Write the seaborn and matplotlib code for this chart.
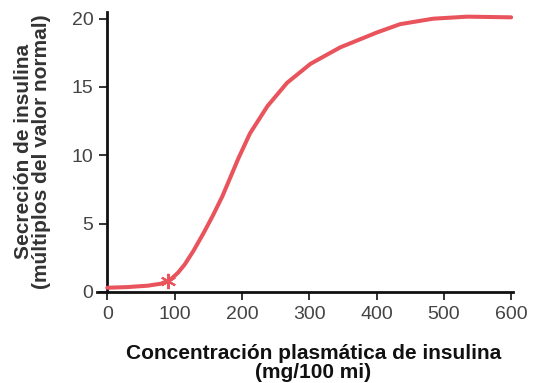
import matplotlib
matplotlib.use("Agg")
import matplotlib.pyplot as plt
import seaborn as sns
import pandas as pd

# Values
concentracion = [0, 30, 60, 80, 94, 105, 115, 128, 143, 157, 171, 183, 195, 212, 238,
                 267, 302, 346, 401, 435, 484, 535, 600]
secrecion = [0.3, 0.35, 0.45, 0.6, 0.9, 1.4, 2.0, 3.0, 4.3, 5.6, 7.0, 8.4, 9.8, 11.6, 13.6,
             15.3, 16.7, 17.9, 19.0, 19.6, 20.0, 20.15, 20.1]
punto_x = [90]
punto_y = [0.8]
x_ticks = [0, 100, 200, 300, 400, 500, 600]
y_ticks = [0, 5, 10, 15, 20]

sns.set_style("white")
plt.rcParams['font.family'] = ['Liberation Sans', 'DejaVu Sans']

df = pd.DataFrame({"x": concentracion, "y": secrecion})

fig = plt.figure(figsize=(5.34, 3.83), dpi=100)
ax = fig.add_axes([0.182, 0.238, 0.779, 0.731])

line_color = "#e9535c"
sns.lineplot(data=df, x="x", y="y", ax=ax, color=line_color, linewidth=2.9,
             solid_capstyle="round", solid_joinstyle="round", zorder=3)
ax.plot(punto_x, punto_y, linestyle="none", marker=(6, 2, 0), markersize=11,
        markeredgewidth=1.5, color=line_color, zorder=4)

ax.set_xlim(-15, 603)
ax.set_ylim(0, 20.5)
ax.spines["left"].set_position(("data", 0))
ax.spines["top"].set_visible(False)
ax.spines["right"].set_visible(False)
for s in ["left", "bottom"]:
    ax.spines[s].set_linewidth(2)
    ax.spines[s].set_color("#111111")

ax.set_xticks(x_ticks)
ax.set_yticks(y_ticks)
ax.tick_params(axis="both", direction="out", length=6, width=1.3, color="#222222",
               labelsize=14, labelcolor="#444444", pad=4,
               bottom=True, left=True)

ax.set_xlabel("Concentración plasmática de insulina\n(mg/100 mi)", fontsize=15,
              fontweight="bold", color="#111111", linespacing=1.0)
ax.set_ylabel("Secreción de insulina\n(múltiplos del valor normal)", fontsize=15,
              fontweight="bold", color="#333333", linespacing=0.95)
ax.xaxis.set_label_coords(0.52, -0.185)
ax.xaxis.label.set_va("top")
ax.yaxis.set_label_coords(-0.11, 0.5)

fig.savefig("out.png", dpi=100, facecolor="white")
plt.close(fig)
